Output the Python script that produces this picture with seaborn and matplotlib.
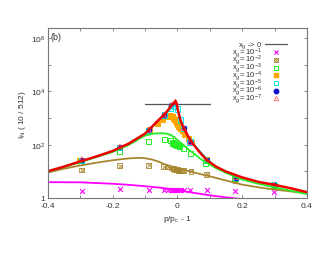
import numpy as np
import matplotlib
matplotlib.use("Agg")
import matplotlib.pyplot as plt
import seaborn as sns

# ---- data (x = p/pc - 1, y = I_N) ----
# gray reference level, x_g -> 0
ref_x = [-0.1, 0.1]
ref_y = [3300, 3300]

# fitted curves
red_x = [-0.4, -0.35, -0.3, -0.25, -0.2, -0.15, -0.1, -0.08, -0.06, -0.04, -0.03, -0.02,
         -0.012, -0.006, -0.002, 0.002, 0.006, 0.01, 0.015, 0.02, 0.03, 0.04, 0.05, 0.07,
         0.09, 0.12, 0.15, 0.2, 0.25, 0.3, 0.35, 0.4]
red_y = [10, 15, 23.5, 36, 58, 110, 260, 450, 800, 1350, 1900, 2700,
         3600, 4300, 3300, 1900, 1200, 800, 560, 420, 240, 150, 100, 50,
         27, 14.8, 9.8, 5.9, 4.0, 3.1, 2.3, 1.65]

cyan_x = [-0.1, -0.06, -0.04, -0.03, -0.02, -0.012, -0.006, 0.0, 0.006, 0.01, 0.015,
          0.02, 0.03, 0.04, 0.06, 0.1]
cyan_y = [255, 780, 1300, 1750, 2300, 2700, 2800, 2200, 1300, 850, 580,
          420, 240, 150, 75, 22]

green_x = [-0.4, -0.3, -0.2, -0.15, -0.1, -0.07, -0.05, -0.035, -0.02, -0.01, 0.0, 0.01,
           0.02, 0.035, 0.05, 0.07, 0.09, 0.12, 0.15, 0.2, 0.25, 0.3, 0.35, 0.4]
green_y = [9.5, 22, 53, 98, 220, 262, 270, 262, 230, 190, 150, 120,
           95, 65, 47, 30, 21, 13, 8.7, 4.9, 3.4, 2.5, 1.85, 1.4]

brown_x = [-0.4, -0.35, -0.3, -0.25, -0.2, -0.15, -0.12, -0.1, -0.08, -0.06, -0.04, -0.02,
           0.0, 0.02, 0.04, 0.07, 0.1, 0.15, 0.2, 0.25, 0.3, 0.35, 0.4]
brown_y = [9, 12.5, 16.5, 21, 26, 30.5, 32, 31, 28, 23.5, 18.5, 15.5,
           13.3, 11.5, 9.8, 7.9, 6.5, 4.5, 3.15, 2.5, 2.05, 1.75, 1.5]

mag_x = [-0.4, -0.3, -0.2, -0.15, -0.1, -0.05, 0.0, 0.05, 0.1, 0.15, 0.2, 0.25]
mag_y = [3.9, 3.85, 3.4, 3.1, 2.75, 2.4, 2.0, 1.55, 1.25, 1.05, 0.9, 0.8]

# simulation points
mag_px = [-0.295, -0.178, -0.088, -0.04, -0.03, -0.02, -0.015, -0.01, -0.005, 0.0, 0.005,
          0.01, 0.02, 0.04, 0.09, 0.178, 0.298]
mag_py = [1.88, 2.1, 2.0, 2.0, 2.0, 2.0, 2.0, 2.0, 2.0, 2.0, 2.0,
          2.0, 2.0, 2.0, 2.0, 1.85, 1.63]

brown_px = [-0.295, -0.178, -0.088, -0.042, -0.03, -0.018, -0.012, -0.008, -0.004, 0.0,
            0.004, 0.008, 0.012, 0.02, 0.042, 0.09, 0.178, 0.298]
brown_py = [11.2, 16.2, 17, 15, 14.5, 13.3, 12.5, 12, 11.5, 11.3,
            11, 11, 10.8, 10.5, 10, 7.6, 4.6, 2.9]

green_px = [-0.3, -0.178, -0.088, -0.04, -0.021, -0.015, -0.012, -0.009, -0.006, -0.003,
            0.0, 0.003, 0.006, 0.02, 0.04, 0.088, 0.178, 0.3]
green_py = [21, 56, 135, 160, 140, 115, 110, 105, 100, 95,
            92, 90, 88, 73, 48, 19.5, 5.5, 3.0]

orange_px = [-0.3, -0.178, -0.085, -0.06, -0.045, -0.035, -0.028, -0.024, -0.02, -0.016,
             -0.013, -0.009, -0.006, -0.003, 0.0, 0.003, 0.006, 0.009, 0.012, 0.018, 0.025,
             0.036, 0.045, 0.09, 0.18, 0.298]
orange_py = [25, 78, 350, 600, 850, 1050, 1150, 1170, 1150, 1100,
             1050, 950, 850, 750, 650, 560, 480, 440, 400, 330, 230,
             160, 120, 26, 5.8, 3.1]

cyan_px = [-0.295, -0.178, -0.088, -0.041, -0.02, -0.01, 0.0, 0.01, 0.02, 0.039, 0.09, 0.18, 0.298]
cyan_py = [26, 80, 340, 1300, 2300, 2700, 2200, 850, 410, 125, 26, 5.8, 3.15]

blue_px = [-0.295, -0.178, -0.088, -0.041, -0.02, 0.02, 0.039, 0.09, 0.18, 0.298]
blue_py = [26.5, 81, 350, 1320, 3000, 405, 122, 26.5, 5.8, 3.15]

tri_px = [-0.295, -0.178, -0.088, -0.041, -0.02, -0.006, 0.02, 0.039, 0.09, 0.18, 0.298]
tri_py = [29, 84, 360, 1350, 3100, 4200, 420, 125, 27, 6.0, 3.2]

legend_labels = ["x$_g$ -> 0", "x$_g$= 10$^{-1}$", "x$_g$= 10$^{-2}$", "x$_g$= 10$^{-3}$",
                 "x$_g$= 10$^{-4}$", "x$_g$= 10$^{-5}$", "x$_g$= 10$^{-6}$", "x$_g$= 10$^{-7}$"]

# ---- style ----
sns.set_style("ticks")
plt.rcParams["font.family"] = ["Liberation Sans", "DejaVu Sans"]
plt.rcParams["mathtext.default"] = "regular"
txt = "#333333"
frame = "#777777"

fig = plt.figure(figsize=(3.3, 2.55), dpi=100)
ax = fig.add_axes([0.145, 0.22, 0.785, 0.665])

c_mag, c_brown, c_green = "#ff00ff", "#a8862e", "#22ee22"
c_orange, c_cyan, c_blue, c_red, c_tri = "#ffa500", "#00e5e5", "#1010cc", "#ee0000", "#ff6060"

sns.lineplot(x=ref_x, y=ref_y, ax=ax, color="#555555", lw=0.9)
sns.lineplot(x=mag_x, y=mag_y, ax=ax, color=c_mag, lw=1.3)
sns.lineplot(x=brown_x, y=brown_y, ax=ax, color=c_brown, lw=1.3)
sns.lineplot(x=green_x, y=green_y, ax=ax, color=c_green, lw=1.3)

sns.scatterplot(x=mag_px, y=mag_py, ax=ax, marker="x", color=c_mag, s=12, linewidth=0.8)
sns.scatterplot(x=brown_px, y=brown_py, ax=ax, marker="s", s=12, facecolor="none",
                edgecolor=c_brown, linewidth=0.6)
sns.scatterplot(x=brown_px, y=brown_py, ax=ax, marker="x", s=8, color=c_brown, linewidth=0.6)
sns.scatterplot(x=green_px, y=green_py, ax=ax, marker="s", s=14, facecolor="none",
                edgecolor=c_green, linewidth=0.7)
sns.scatterplot(x=orange_px, y=orange_py, ax=ax, marker="s", s=14, color=c_orange,
                edgecolor=c_orange, linewidth=0)
sns.lineplot(x=cyan_x, y=cyan_y, ax=ax, color=c_cyan, lw=1.3)
sns.scatterplot(x=cyan_px, y=cyan_py, ax=ax, marker="s", s=14, facecolor="none",
                edgecolor=c_cyan, linewidth=0.7)
sns.scatterplot(x=blue_px, y=blue_py, ax=ax, marker="o", s=16, color=c_blue,
                edgecolor=c_blue, linewidth=0)
sns.scatterplot(x=tri_px, y=tri_py, ax=ax, marker="^", s=12, facecolor="none",
                edgecolor=c_tri, linewidth=0.6)
sns.lineplot(x=red_x, y=red_y, ax=ax, color=c_red, lw=1.8)

ax.set_yscale("log")
ax.set_xlim(-0.4, 0.4)
ax.set_ylim(1, 10 ** 6.37)

ax.set_xticks(np.arange(-0.4, 0.41, 0.1))
ax.set_xticklabels(["-0.4", "", "-0.2", "", "0", "", "0.2", "", "0.4"])
ax.set_yticks([10.0 ** k for k in range(7)])
ax.set_yticklabels(["1", "", "10$^2$", "", "10$^4$", "", "10$^6$"])
ax.minorticks_off()
ax.tick_params(direction="in", length=2.5, width=0.6, color=frame, labelsize=6,
               labelcolor=txt, top=True, right=True)
ax.tick_params(axis="x", pad=3)
ax.tick_params(axis="y", pad=2)
for sp in ax.spines.values():
    sp.set_color(frame)
    sp.set_linewidth(0.8)

ax.set_xlabel("p/p$_c$ - 1", fontsize=6, color=txt, labelpad=3)
ax.set_ylabel("I$_N$ ( 10 / 512)", fontsize=6, color=txt)
ax.yaxis.set_label_coords(-0.077, 0.5)
ax.text(0.01, 0.95, "(b)", transform=ax.transAxes, fontsize=6.5, color=txt,
        va="center", ha="left")

# gnuplot-style key: right-aligned text, symbol to its right, tight rows
key_top, key_step = 0.905, 0.0455
key_text_x, key_sym_x = 0.826, 0.880
for i, lab in enumerate(legend_labels):
    yk = key_top - i * key_step
    ax.text(key_text_x, yk, lab, transform=ax.transAxes, fontsize=5.5, color=txt,
            ha="right", va="center")
kw = dict(transform=ax.transAxes, clip_on=False, ls="")
ax.plot([0.838, 0.923], [key_top, key_top], transform=ax.transAxes, clip_on=False,
        color="#555555", lw=0.9)
ax.plot([key_sym_x], [key_top - 1 * key_step], marker="x", color=c_mag, ms=3, mew=0.8, **kw)
ax.plot([key_sym_x], [key_top - 2 * key_step], marker="s", mfc="none", mec=c_brown,
        ms=3.2, mew=0.6, **kw)
ax.plot([key_sym_x], [key_top - 2 * key_step], marker="x", color=c_brown, ms=2.6, mew=0.6, **kw)
ax.plot([key_sym_x], [key_top - 3 * key_step], marker="s", mfc="none", mec=c_green,
        ms=3.2, mew=0.7, **kw)
ax.plot([key_sym_x], [key_top - 4 * key_step], marker="s", color=c_orange, ms=3.2, **kw)
ax.plot([key_sym_x], [key_top - 5 * key_step], marker="s", mfc="none", mec=c_cyan,
        ms=3.2, mew=0.7, **kw)
ax.plot([key_sym_x], [key_top - 6 * key_step], marker="o", color=c_blue, ms=3.2, **kw)
ax.plot([key_sym_x], [key_top - 7 * key_step], marker="^", mfc="none", mec=c_tri,
        ms=3.2, mew=0.6, **kw)

fig.savefig("out.png", dpi=100)
